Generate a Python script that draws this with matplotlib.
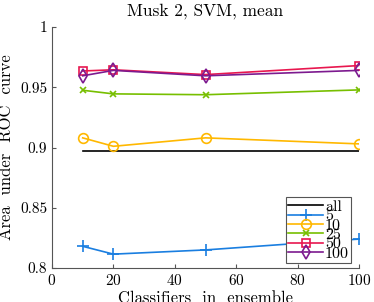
import numpy as np
import matplotlib
matplotlib.use("Agg")
import matplotlib.pyplot as plt

plt.rcParams['font.family'] = 'serif'
plt.rcParams['font.serif'] = ['cmr10', 'DejaVu Serif']
plt.rcParams['axes.formatter.use_mathtext'] = True

# data
n_classifiers = [10, 20, 50, 100]
auc_all = [0.897, 0.897, 0.897, 0.897]
auc_5 = [0.818, 0.8115, 0.815, 0.824]
auc_10 = [0.908, 0.901, 0.908, 0.903]
auc_25 = [0.9475, 0.9445, 0.9438, 0.9478]
auc_50 = [0.9635, 0.9645, 0.9605, 0.968]
auc_100 = [0.9595, 0.964, 0.9595, 0.964]

fig = plt.figure(figsize=(3.74, 3.02), dpi=100)
ax = fig.add_axes([52/374, 1-268/302, (359-52)/374, (268-27)/302])

ax.plot(n_classifiers, auc_all, '-', color='black', lw=1.2, label='all')
ax.plot(n_classifiers, auc_5, '-+', color='#1a7ee0', lw=1.2, ms=8, mew=1.2, label='5')
ax.plot(n_classifiers, auc_10, '-o', color='#ffb800', lw=1.2, ms=7, mfc='none', mew=1.2, label='10')
ax.plot(n_classifiers, auc_25, '-x', color='#77bf00', lw=1.2, ms=5, mew=1.2, label='25')
ax.plot(n_classifiers, auc_50, '-s', color='#e8174f', lw=1.2, ms=6, mfc='none', mew=1.2, label='50')
ax.plot(n_classifiers, auc_100, '-d', color='#7d1a8f', lw=1.2, ms=7, mfc='none', mew=1.2, label='100')

ax.set_xlim(0, 100)
ax.set_ylim(0.8, 1)
ax.set_xticks([0, 20, 40, 60, 80, 100])
ax.set_yticks([0.8, 0.85, 0.9, 0.95, 1])
ax.set_yticklabels(['0.8', '0.85', '0.9', '0.95', '1'])
ax.tick_params(direction='in', labelsize=11, length=3, color='#555555')
for s in ['top', 'right']:
    ax.spines[s].set_visible(False)
for s in ['left', 'bottom']:
    ax.spines[s].set_color('#555555')

ax.set_title('Musk 2, SVM, mean', fontsize=12.5, pad=8)
ax.set_xlabel('Classifiers  in  ensemble', fontsize=12, labelpad=2)
ax.set_ylabel('Area  under  ROC  curve', fontsize=12, labelpad=4)

leg = ax.legend(loc='lower right', bbox_to_anchor=(0.975, 0.02), fontsize=11.5, handlelength=2.2,
                handletextpad=0.1, labelspacing=-0.3, borderpad=0.15, borderaxespad=0,
                fancybox=False, framealpha=1, edgecolor='#555555')
leg.get_frame().set_linewidth(0.8)

fig.savefig('out.png', dpi=100)
